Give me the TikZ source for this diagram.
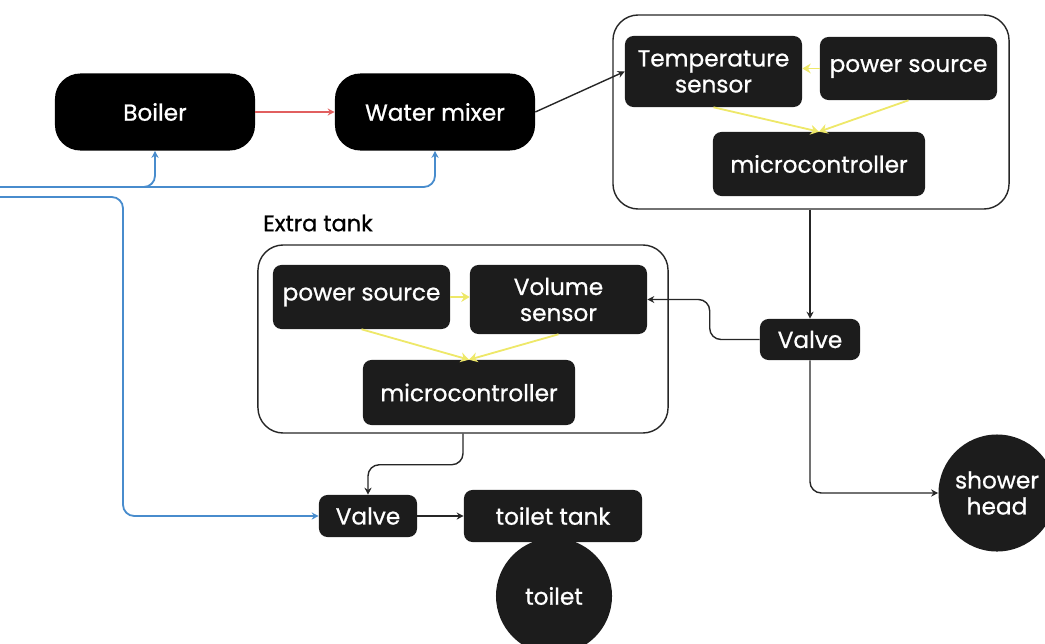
\documentclass[tikz,border=0pt]{standalone}
\usepackage{fontspec}
\setmainfont{Poppins}
\newfontface\boxfont{Poppins}[FakeBold=0.8]
\usepackage{xcolor}
\usepackage{tikz}
\usetikzlibrary{positioning,calc,arrows.meta}

\definecolor{pipeblue}{RGB}{72,140,205}
\definecolor{hotred}{RGB}{225,95,95}
\definecolor{wireyellow}{RGB}{238,232,105}
\definecolor{boxdark}{RGB}{28,28,28}

\begin{document}
\begin{tikzpicture}[x=0.025cm, y=-0.025cm,
        blk/.style={fill=boxdark, text=white, rounded corners=6pt, inner sep=0pt, align=center, font=\boxfont\fontsize{16.5}{18.5}\selectfont},
        pill/.style={blk, fill=black, rounded corners=18pt, minimum width=5cm, minimum height=1.925cm},
        ball/.style={circle, fill=boxdark, text=white, inner sep=0pt, align=center, font=\boxfont\fontsize{16.5}{18.5}\selectfont},
        frame/.style={draw=black!85, line width=1pt, rounded corners=18pt},
        flow/.style={-{Stealth[length=5pt,width=5pt]}, line width=1pt, black!85, rounded corners=8pt},
        water/.style={-{Stealth[length=5pt,width=5pt]}, line width=1.3pt, pipeblue, rounded corners=8pt},
        wire/.style={-{Stealth[length=6pt,width=7pt]}, line width=1.3pt, wireyellow}]
        \clip (0,0) rectangle (1045,644);

        % heating
        \node[pill] (boiler) at (155,112) {Boiler};
        \node[pill] (mixer) at (435,112) {Water mixer};
        \draw[flow, hotred, line width=1.3pt] (boiler) -- (mixer);

        % temperature unit
        \node[frame, minimum width=9.9cm, minimum height=4.85cm] (topbox) at (811,112) {};
        \node[blk, minimum width=4.425cm, minimum height=1.775cm] (tempsens) at (713.5,71.5) {Temperature\\sensor};
        \node[blk, minimum width=4.425cm, minimum height=1.575cm] (powtop) at (908.5,68.5) {power source};
        \node[blk, minimum width=5.3cm, minimum height=1.6cm] (mctop) at (819,164) {microcontroller};
        \draw[wire] (powtop.west) -- (tempsens.east |- powtop.west);
        \draw[wire] (tempsens.south) -- (mctop.north);
        \draw[wire] (powtop.south) -- (mctop.north);
        \draw[flow] (mixer.east) -- (tempsens.west);

        % extra tank unit
        \node[font=\boxfont\fontsize{16}{18}\selectfont] (tanklabel) at (318,223) {Extra tank};
        \node[frame, minimum width=10.25cm, minimum height=4.7cm] (tankbox) at (463,339) {};
        \node[blk, minimum width=4.425cm, minimum height=1.6cm] (powtank) at (361.5,297) {power source};
        \node[blk, minimum width=4.425cm, minimum height=1.725cm] (volsens) at (558.5,299.5) {Volume\\sensor};
        \node[blk, minimum width=5.3cm, minimum height=1.625cm] (mctank) at (469,392.5) {microcontroller};
        \draw[wire] (powtank.east) -- (volsens.west |- powtank.east);
        \draw[wire] (powtank.south) -- (mctank.north);
        \draw[wire] (volsens.south) -- (mctank.north);

        % valves and outlets
        \node[blk, minimum width=2.5cm, minimum height=1.025cm] (valveA) at (810,339.5) {Valve};
        \node[ball, minimum size=2.925cm] (shower) at (997,493) {shower\\head};
        \node[blk, minimum width=2.45cm, minimum height=1.05cm] (valveB) at (368,516) {Valve};
        \node[ball, minimum size=2.9cm] (toilet) at (554,596) {toilet};
        \node[blk, minimum width=4.45cm, minimum height=1.3cm] (toiltank) at (553,516) {toilet tank};

        \draw[flow] (topbox.south -| valveA.north) -- (valveA.north);
        \draw[flow] (valveA.west) -- ++(-50,0) |- (volsens.east);
        \draw[flow] (valveA.south) |- (shower.west);
        \draw[flow] (tankbox.south) -- ++(0,31) -| (valveB.north);
        \draw[flow] (valveB) -- (toiltank);

        % cold water supply
        \coordinate (inA) at (0,187);
        \coordinate (inB) at (0,197);
        \coordinate (bendB) at (123,197);
        \draw[water] (inA) -| (mixer.south);
        \draw[water] (inA) -| (boiler.south);
        \draw[water] (inB) -- (bendB) |- (valveB.west);
\end{tikzpicture}
\end{document}
